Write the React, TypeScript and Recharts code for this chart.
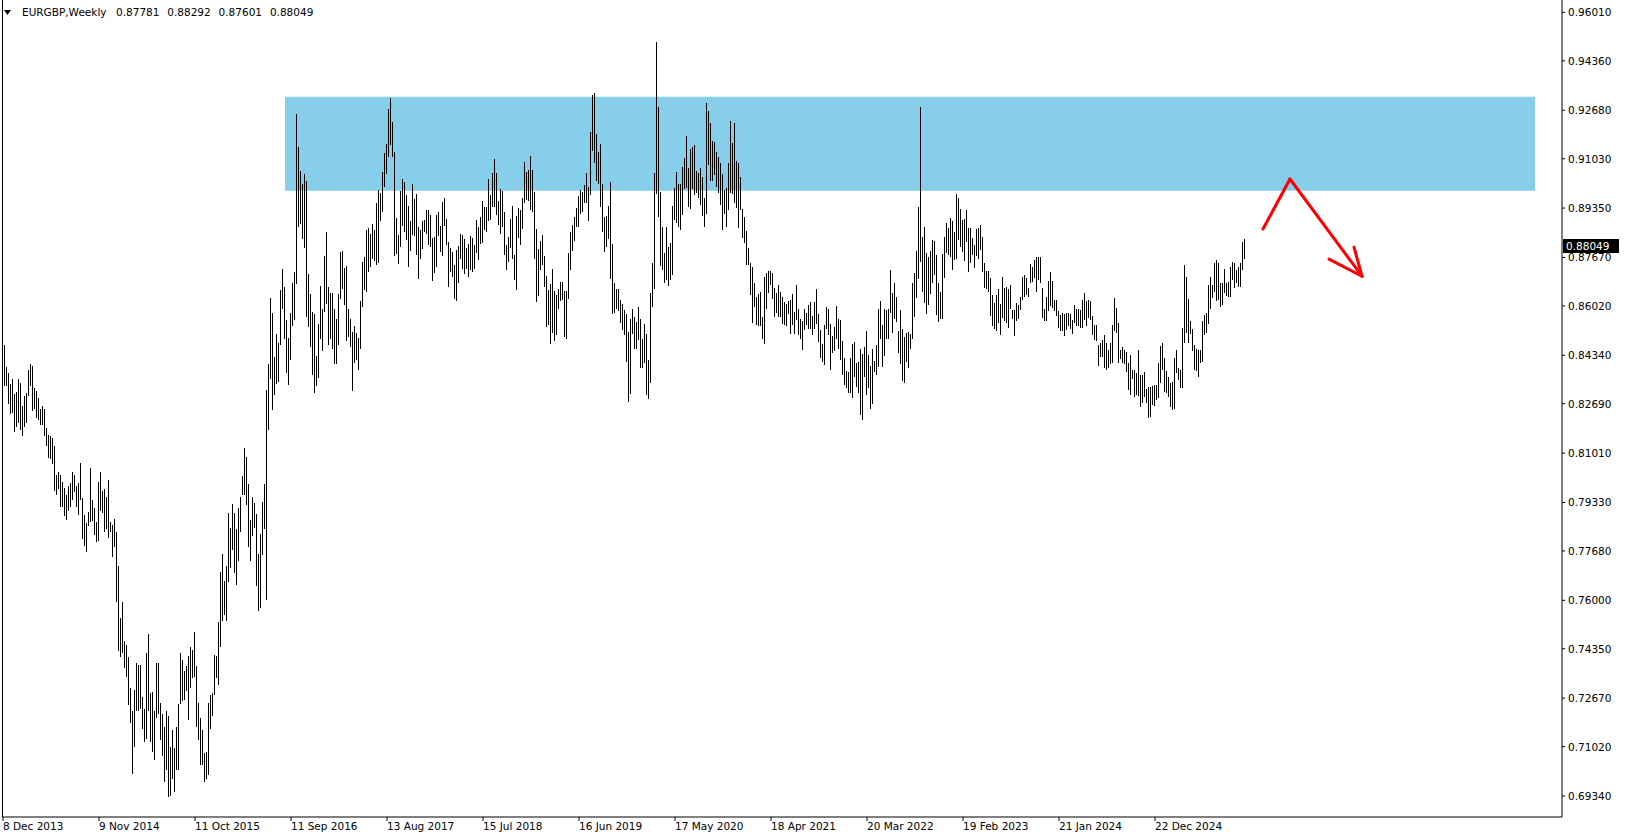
import React from 'react';
import { ComposedChart, Bar, XAxis, YAxis, ReferenceArea, ReferenceLine } from 'recharts';

// weekly EURGBP highs / lows, from 8 Dec 2013 onwards (one value per week)
const highs = [
  0.8440, 0.8468, 0.8393, 0.8372, 0.8336, 0.8352, 0.8302, 0.8308, 0.8352, 0.8339,
  0.8263, 0.8294, 0.8306, 0.8384, 0.8403, 0.8398, 0.8324, 0.8312, 0.8287, 0.8251,
  0.8261, 0.8251, 0.8187, 0.8162, 0.8158, 0.8153, 0.8126, 0.8028, 0.8036, 0.8028,
  0.8001, 0.7982, 0.7960, 0.7990, 0.7999, 0.8038, 0.8028, 0.7990, 0.7999, 0.8068,
  0.7949, 0.7892, 0.7862, 0.7902, 0.8051, 0.7940, 0.7915, 0.7865, 0.8001, 0.8038,
  0.7971, 0.7980, 0.7953, 0.8008, 0.7867, 0.7856, 0.7877, 0.7831, 0.7716, 0.7540,
  0.7593, 0.7460, 0.7447, 0.7406, 0.7303, 0.7223, 0.7294, 0.7385, 0.7381, 0.7379,
  0.7272, 0.7230, 0.7421, 0.7485, 0.7285, 0.7287, 0.7223, 0.7387, 0.7387, 0.7250,
  0.7212, 0.7169, 0.7223, 0.7205, 0.7101, 0.7160, 0.7096, 0.7169, 0.7248, 0.7421,
  0.7396, 0.7360, 0.7376, 0.7412, 0.7442, 0.7430, 0.7493, 0.7376, 0.7250, 0.7199,
  0.7157, 0.7080, 0.7083, 0.7250, 0.7278, 0.7285, 0.7415, 0.7412, 0.7525, 0.7695,
  0.7756, 0.7667, 0.7716, 0.7898, 0.7846, 0.7928, 0.7898, 0.7844, 0.7915, 0.7951,
  0.8024, 0.8117, 0.8089, 0.7996, 0.7874, 0.7951, 0.7931, 0.7894, 0.7756, 0.7826,
  0.7935, 0.7996, 0.8315, 0.8405, 0.8628, 0.8579, 0.8428, 0.8506, 0.8476, 0.8656,
  0.8729, 0.8665, 0.8555, 0.8494, 0.8579, 0.8681, 0.8717, 0.9255, 0.9144, 0.9062,
  0.9017, 0.9051, 0.9028, 0.8709, 0.8642, 0.8582, 0.8574, 0.8431, 0.8540, 0.8669,
  0.8590, 0.8771, 0.8854, 0.8667, 0.8647, 0.8647, 0.8593, 0.8556, 0.8642, 0.8786,
  0.8790, 0.8730, 0.8738, 0.8590, 0.8556, 0.8514, 0.8533, 0.8511, 0.8493, 0.8619,
  0.8752, 0.8769, 0.8860, 0.8866, 0.8846, 0.8880, 0.8862, 0.8953, 0.8996, 0.8987,
  0.9059, 0.9123, 0.9153, 0.9273, 0.9308, 0.9228, 0.9126, 0.8902, 0.8843, 0.8994,
  0.9034, 0.9024, 0.8979, 0.8942, 0.8892, 0.9017, 0.8967, 0.8983, 0.8871, 0.8862,
  0.8892, 0.8896, 0.8928, 0.8928, 0.8911, 0.8833, 0.8837, 0.8911, 0.8921, 0.8874,
  0.8955, 0.8969, 0.8898, 0.8820, 0.8798, 0.8786, 0.8741, 0.8792, 0.8806, 0.8846,
  0.8842, 0.8829, 0.8798, 0.8812, 0.8840, 0.8833, 0.8809, 0.8894, 0.8871, 0.8905,
  0.8959, 0.8940, 0.8940, 0.9034, 0.8979, 0.9053, 0.9102, 0.9053, 0.8959, 0.9000,
  0.8993, 0.8921, 0.8809, 0.8837, 0.8898, 0.8942, 0.8775, 0.8909, 0.8935, 0.8928,
  0.8969, 0.9092, 0.9058, 0.9064, 0.9112, 0.9064, 0.8989, 0.8864, 0.8795, 0.8824,
  0.8843, 0.8772, 0.8703, 0.8656, 0.8678, 0.8727, 0.8653, 0.8639, 0.8659, 0.8682,
  0.8682, 0.8653, 0.8653, 0.8783, 0.8854, 0.8877, 0.8905, 0.8934, 0.8976, 0.8996,
  0.8991, 0.9013, 0.9053, 0.9008, 0.9195, 0.9320, 0.9328, 0.9187, 0.9127, 0.9153,
  0.9017, 0.8905, 0.8908, 0.8942, 0.9024, 0.8812, 0.8681, 0.8658, 0.8658, 0.8622,
  0.8608, 0.8588, 0.8576, 0.8514, 0.8559, 0.8593, 0.8563, 0.8548, 0.8599, 0.8556,
  0.8489, 0.8539, 0.8506, 0.8418, 0.8645, 0.8747, 0.9053, 0.9499, 0.9280, 0.8991,
  0.8869, 0.8783, 0.8869, 0.8801, 0.8815, 0.8942, 0.9005, 0.9059, 0.9017, 0.9017,
  0.9074, 0.9104, 0.9180, 0.9070, 0.9135, 0.9142, 0.9150, 0.9062, 0.9053, 0.9070,
  0.9042, 0.8968, 0.9291, 0.9265, 0.9226, 0.9164, 0.9161, 0.9127, 0.9110, 0.9089,
  0.9051, 0.8996, 0.9002, 0.9089, 0.9230, 0.9155, 0.9223, 0.9096, 0.9089, 0.9040,
  0.8931, 0.8906, 0.8858, 0.8798, 0.8749, 0.8735, 0.8681, 0.8633, 0.8642, 0.8650,
  0.8563, 0.8699, 0.8715, 0.8722, 0.8721, 0.8715, 0.8662, 0.8647, 0.8673, 0.8650,
  0.8633, 0.8616, 0.8608, 0.8620, 0.8622, 0.8642, 0.8582, 0.8673, 0.8593, 0.8559,
  0.8551, 0.8590, 0.8579, 0.8605, 0.8616, 0.8567, 0.8614, 0.8658, 0.8574, 0.8520,
  0.8472, 0.8537, 0.8597, 0.8590, 0.8540, 0.8499, 0.8529, 0.8601, 0.8556, 0.8554,
  0.8483, 0.8423, 0.8381, 0.8378, 0.8423, 0.8472, 0.8480, 0.8406, 0.8412, 0.8457,
  0.8438, 0.8461, 0.8517, 0.8435, 0.8397, 0.8454, 0.8415, 0.8469, 0.8593, 0.8620,
  0.8537, 0.8590, 0.8588, 0.8590, 0.8724, 0.8645, 0.8681, 0.8631, 0.8517, 0.8588,
  0.8525, 0.8495, 0.8511, 0.8514, 0.8506, 0.8681, 0.8715, 0.8790, 0.8940, 0.9280,
  0.8835, 0.8872, 0.8783, 0.8769, 0.8790, 0.8828, 0.8824, 0.8775, 0.8681, 0.8650,
  0.8779, 0.8838, 0.8883, 0.8866, 0.8900, 0.8892, 0.8855, 0.8983, 0.8969, 0.8931,
  0.8895, 0.8897, 0.8929, 0.8866, 0.8866, 0.8832, 0.8810, 0.8863, 0.8866, 0.8878,
  0.8838, 0.8747, 0.8722, 0.8722, 0.8696, 0.8639, 0.8613, 0.8639, 0.8659, 0.8609,
  0.8702, 0.8662, 0.8665, 0.8659, 0.8673, 0.8588, 0.8588, 0.8611, 0.8605, 0.8634,
  0.8702, 0.8707, 0.8696, 0.8662, 0.8745, 0.8736, 0.8759, 0.8768, 0.8768, 0.8768,
  0.8662, 0.8591, 0.8634, 0.8688, 0.8719, 0.8688, 0.8622, 0.8622, 0.8583, 0.8571,
  0.8577, 0.8575, 0.8577, 0.8579, 0.8575, 0.8554, 0.8605, 0.8591, 0.8591, 0.8588,
  0.8622, 0.8645, 0.8620, 0.8622, 0.8620, 0.8568, 0.8537, 0.8537, 0.8469, 0.8475,
  0.8486, 0.8503, 0.8475, 0.8452, 0.8475, 0.8537, 0.8628, 0.8594, 0.8545, 0.8452,
  0.8463, 0.8452, 0.8446, 0.8407, 0.8435, 0.8384, 0.8384, 0.8375, 0.8452, 0.8367,
  0.8367, 0.8378, 0.8318, 0.8327, 0.8327, 0.8330, 0.8333, 0.8333, 0.8409, 0.8466,
  0.8477, 0.8424, 0.8382, 0.8361, 0.8339, 0.8344, 0.8424, 0.8452, 0.8390, 0.8384,
  0.8526, 0.8742, 0.8700, 0.8625, 0.8549, 0.8522, 0.8469, 0.8454, 0.8452, 0.8452,
  0.8552, 0.8571, 0.8579, 0.8673, 0.8702, 0.8673, 0.8747, 0.8759, 0.8747, 0.8679,
  0.8679, 0.8727, 0.8679, 0.8685, 0.8734, 0.8753, 0.8747, 0.8725, 0.8734, 0.8749,
  0.8821, 0.88292,
];

const lows = [
  0.8348, 0.8330, 0.8330, 0.8269, 0.8233, 0.8239, 0.8172, 0.8190, 0.8203, 0.8178,
  0.8158, 0.8190, 0.8205, 0.8294, 0.8330, 0.8245, 0.8251, 0.8221, 0.8215, 0.8196,
  0.8196, 0.8160, 0.8126, 0.8083, 0.8081, 0.8065, 0.7971, 0.7960, 0.7978, 0.7917,
  0.7919, 0.7886, 0.7874, 0.7904, 0.7919, 0.7940, 0.7967, 0.7917, 0.7890, 0.7940,
  0.7810, 0.7785, 0.7765, 0.7853, 0.7867, 0.7871, 0.7821, 0.7798, 0.7801, 0.7904,
  0.7898, 0.7831, 0.7841, 0.7813, 0.7831, 0.7746, 0.7781, 0.7594, 0.7428, 0.7406,
  0.7421, 0.7369, 0.7339, 0.7242, 0.7181, 0.7010, 0.7101, 0.7223, 0.7223, 0.7230,
  0.7162, 0.7116, 0.7128, 0.7223, 0.7116, 0.7083, 0.7055, 0.7199, 0.7212, 0.7126,
  0.7071, 0.6982, 0.7023, 0.6931, 0.6934, 0.6992, 0.6949, 0.7023, 0.7023, 0.7248,
  0.7258, 0.7260, 0.7290, 0.7193, 0.7303, 0.7335, 0.7339, 0.7169, 0.7126, 0.7038,
  0.7038, 0.6980, 0.6992, 0.7005, 0.7162, 0.7205, 0.7278, 0.7335, 0.7311, 0.7442,
  0.7528, 0.7551, 0.7528, 0.7661, 0.7710, 0.7771, 0.7692, 0.7651, 0.7735, 0.7831,
  0.7960, 0.7960, 0.7926, 0.7783, 0.7735, 0.7819, 0.7846, 0.7649, 0.7564, 0.7574,
  0.7753, 0.7844, 0.7601, 0.8178, 0.8354, 0.8248, 0.8299, 0.8336, 0.8342, 0.8470,
  0.8592, 0.8488, 0.8372, 0.8332, 0.8417, 0.8534, 0.8555, 0.8676, 0.8870, 0.8880,
  0.8830, 0.8800, 0.8565, 0.8531, 0.8461, 0.8366, 0.8306, 0.8329, 0.8355, 0.8491,
  0.8449, 0.8582, 0.8610, 0.8468, 0.8491, 0.8457, 0.8403, 0.8403, 0.8468, 0.8624,
  0.8661, 0.8605, 0.8483, 0.8495, 0.8463, 0.8313, 0.8406, 0.8417, 0.8383, 0.8457,
  0.8599, 0.8656, 0.8650, 0.8718, 0.8735, 0.8760, 0.8756, 0.8741, 0.8747, 0.8892,
  0.8922, 0.9008, 0.9051, 0.9110, 0.9150, 0.9110, 0.8772, 0.8778, 0.8744, 0.8801,
  0.8874, 0.8854, 0.8826, 0.8733, 0.8790, 0.8843, 0.8840, 0.8775, 0.8692, 0.8760,
  0.8794, 0.8854, 0.8846, 0.8809, 0.8803, 0.8688, 0.8715, 0.8733, 0.8840, 0.8786,
  0.8772, 0.8874, 0.8809, 0.8667, 0.8718, 0.8701, 0.8627, 0.8619, 0.8681, 0.8760,
  0.8726, 0.8710, 0.8726, 0.8699, 0.8724, 0.8718, 0.8726, 0.8783, 0.8758, 0.8812,
  0.8817, 0.8862, 0.8854, 0.8892, 0.8894, 0.8940, 0.8940, 0.8911, 0.8877, 0.8846,
  0.8871, 0.8775, 0.8724, 0.8752, 0.8798, 0.8760, 0.8690, 0.8656, 0.8832, 0.8809,
  0.8863, 0.8953, 0.8962, 0.8960, 0.8928, 0.8922, 0.8760, 0.8616, 0.8635, 0.8724,
  0.8741, 0.8667, 0.8531, 0.8537, 0.8472, 0.8510, 0.8483, 0.8503, 0.8590, 0.8619,
  0.8622, 0.8497, 0.8489, 0.8624, 0.8724, 0.8790, 0.8824, 0.8871, 0.8871, 0.8915,
  0.8921, 0.8951, 0.8953, 0.8892, 0.8979, 0.9130, 0.9089, 0.9028, 0.9017, 0.8940,
  0.8854, 0.8786, 0.8803, 0.8829, 0.8695, 0.8574, 0.8579, 0.8593, 0.8585, 0.8545,
  0.8520, 0.8503, 0.8412, 0.8276, 0.8302, 0.8506, 0.8454, 0.8457, 0.8486, 0.8389,
  0.8389, 0.8409, 0.8298, 0.8284, 0.8340, 0.8597, 0.8658, 0.8983, 0.8906, 0.8738,
  0.8724, 0.8681, 0.8690, 0.8670, 0.8690, 0.8707, 0.8894, 0.8883, 0.8871, 0.8862,
  0.8911, 0.8999, 0.9002, 0.8940, 0.8932, 0.8999, 0.8979, 0.8987, 0.8968, 0.8945,
  0.8908, 0.8869, 0.8915, 0.9081, 0.9028, 0.9028, 0.9047, 0.9008, 0.8985, 0.8945,
  0.8860, 0.8915, 0.8869, 0.8928, 0.8987, 0.8983, 0.8951, 0.8934, 0.8866, 0.8928,
  0.8832, 0.8815, 0.8741, 0.8741, 0.8639, 0.8545, 0.8597, 0.8537, 0.8533, 0.8533,
  0.8491, 0.8474, 0.8590, 0.8645, 0.8673, 0.8624, 0.8565, 0.8577, 0.8565, 0.8563,
  0.8542, 0.8537, 0.8533, 0.8574, 0.8506, 0.8537, 0.8506, 0.8554, 0.8503, 0.8488,
  0.8452, 0.8520, 0.8537, 0.8522, 0.8522, 0.8503, 0.8522, 0.8542, 0.8480, 0.8423,
  0.8412, 0.8401, 0.8522, 0.8503, 0.8384, 0.8443, 0.8449, 0.8490, 0.8454, 0.8418,
  0.8366, 0.8332, 0.8324, 0.8306, 0.8306, 0.8287, 0.8361, 0.8327, 0.8306, 0.8230,
  0.8213, 0.8361, 0.8298, 0.8324, 0.8250, 0.8268, 0.8378, 0.8367, 0.8395, 0.8488,
  0.8393, 0.8431, 0.8488, 0.8488, 0.8579, 0.8511, 0.8559, 0.8548, 0.8442, 0.8404,
  0.8347, 0.8340, 0.8412, 0.8389, 0.8457, 0.8491, 0.8565, 0.8628, 0.8692, 0.8752,
  0.8650, 0.8611, 0.8576, 0.8605, 0.8642, 0.8679, 0.8707, 0.8571, 0.8548, 0.8559,
  0.8559, 0.8696, 0.8783, 0.8775, 0.8770, 0.8725, 0.8759, 0.8761, 0.8827, 0.8802,
  0.8784, 0.8756, 0.8821, 0.8719, 0.8747, 0.8776, 0.8730, 0.8772, 0.8761, 0.8793,
  0.8719, 0.8662, 0.8659, 0.8651, 0.8568, 0.8534, 0.8522, 0.8518, 0.8543, 0.8503,
  0.8562, 0.8549, 0.8545, 0.8526, 0.8591, 0.8557, 0.8498, 0.8549, 0.8557, 0.8588,
  0.8622, 0.8634, 0.8639, 0.8631, 0.8681, 0.8685, 0.8696, 0.8651, 0.8690, 0.8679,
  0.8560, 0.8549, 0.8552, 0.8586, 0.8600, 0.8594, 0.8583, 0.8566, 0.8526, 0.8515,
  0.8518, 0.8500, 0.8520, 0.8532, 0.8522, 0.8507, 0.8543, 0.8532, 0.8532, 0.8526,
  0.8526, 0.8554, 0.8532, 0.8560, 0.8554, 0.8503, 0.8486, 0.8481, 0.8398, 0.8429,
  0.8429, 0.8390, 0.8384, 0.8390, 0.8404, 0.8407, 0.8515, 0.8509, 0.8407, 0.8420,
  0.8407, 0.8404, 0.8378, 0.8316, 0.8299, 0.8352, 0.8293, 0.8299, 0.8295, 0.8259,
  0.8271, 0.8293, 0.8271, 0.8219, 0.8223, 0.8265, 0.8261, 0.8282, 0.8288, 0.8341,
  0.8384, 0.8310, 0.8307, 0.8293, 0.8259, 0.8246, 0.8250, 0.8373, 0.8350, 0.8322,
  0.8322, 0.8475, 0.8511, 0.8475, 0.8507, 0.8450, 0.8384, 0.8382, 0.8359, 0.8407,
  0.8412, 0.8503, 0.8509, 0.8541, 0.8591, 0.8628, 0.8651, 0.8617, 0.8622, 0.8597,
  0.8605, 0.8645, 0.8636, 0.8634, 0.8634, 0.8690, 0.8662, 0.8679, 0.8665, 0.8668,
  0.8725, 0.87601,
];

// last bar, shown in the header
const lastOpen = 0.87781;
const lastClose = 0.88049;

const priceTicks = [
  0.6934, 0.7102, 0.7267, 0.7435, 0.76, 0.7768, 0.7933, 0.8101, 0.8269,
  0.8434, 0.8602, 0.8767, 0.8935, 0.9103, 0.9268, 0.9436, 0.9601,
];

const dateTickBars = [0, 48, 96, 144, 192, 240, 288, 336, 384, 432, 480, 528, 576];
const dateTickLabels = [
  '8 Dec 2013', '9 Nov 2014', '11 Oct 2015', '11 Sep 2016', '13 Aug 2017', '15 Jul 2018',
  '16 Jun 2019', '17 May 2020', '18 Apr 2021', '20 Mar 2022', '19 Feb 2023', '21 Jan 2024',
  '22 Dec 2024',
];

// supply zone (bar index range, price range)
const zoneBars = [141, 766];
const zonePrices = [0.8994, 0.9314];

// hand-drawn arrow, in bar index / price
const arrowPath = [
  { bar: 630, price: 0.8864 },
  { bar: 643.5, price: 0.9034 },
  { bar: 679.5, price: 0.8703 },
];
const arrowHead = [
  { bar: 675.5, price: 0.8802 },
  { bar: 663, price: 0.8761 },
];

const data = highs.map((h, i) => ({ i, range: [lows[i], h] }));

const FONT = '"DejaVu Sans", Tahoma, sans-serif';

const W = 1625;
const H = 838;

function HighLowBar(props: any) {
  const { x, y, width, height } = props;
  const cx = Math.floor(x + width / 2) + 0.5;
  const top = Math.round(y);
  const bottom = Math.max(Math.round(y + height), top + 1);
  return <line x1={cx} x2={cx} y1={top} y2={bottom} stroke="#000" strokeWidth={1} shapeRendering="crispEdges" />;
}

function PriceTick(props: any) {
  const { x, y, payload } = props;
  return (
    <text x={x + 1} y={y} dy={4} fontSize={10.5} fontFamily={FONT} fill="#000" textAnchor="start">
      {Number(payload.value).toFixed(5)}
    </text>
  );
}

function DateTick(props: any) {
  const { x, y, payload } = props;
  const k = dateTickBars.indexOf(payload.value);
  return (
    <text x={x} y={y} dy={7} fontSize={10.5} fontFamily={FONT} fill="#000" textAnchor="start">
      {dateTickLabels[k]}
    </text>
  );
}

function PriceTag(props: any) {
  const vb = props.viewBox || {};
  const x = vb.x + vb.width + 1;
  const y = Math.round(vb.y);
  return (
    <g>
      <rect x={x} y={y - 7} width={56} height={14} fill="#000" />
      <text x={x + 3} y={y + 4} fontSize={10.5} fontFamily={FONT} fill="#fff">
        {lastClose.toFixed(5)}
      </text>
    </g>
  );
}

export default function App() {
  const header = [lastOpen, highs[highs.length - 1], lows[lows.length - 1], lastClose];
  return (
    <div style={{ position: 'fixed', left: 0, top: 0, width: W, height: H, background: '#fff', overflow: 'hidden' }}>
      <ComposedChart width={W} height={H} data={data} margin={{ top: 0, right: 0, bottom: 0, left: 2 }}>
        <XAxis
          type="number"
          dataKey="i"
          domain={[-0.5, 779.5]}
          allowDataOverflow
          ticks={dateTickBars}
          interval={0}
          height={21}
          tickSize={4}
          tickMargin={2}
          axisLine={{ stroke: '#000' }}
          tickLine={{ stroke: '#000' }}
          tick={<DateTick />}
        />
        <YAxis
          type="number"
          orientation="right"
          domain={[0.68624, 0.96432]}
          allowDataOverflow
          ticks={priceTicks}
          interval={0}
          width={63}
          tickSize={3}
          tickMargin={2}
          axisLine={{ stroke: '#000' }}
          tickLine={{ stroke: '#000' }}
          tick={<PriceTick />}
        />
        <ReferenceArea
          x1={zoneBars[0]}
          x2={zoneBars[1]}
          y1={zonePrices[0]}
          y2={zonePrices[1]}
          fill="#87ceeb"
          fillOpacity={1}
          stroke="none"
        />
        <Bar dataKey="range" barSize={1} isAnimationActive={false} shape={<HighLowBar />} />
        {arrowPath.slice(1).map((p, k) => (
          <ReferenceLine
            key={`arrow-${k}`}
            segment={[
              { x: arrowPath[k].bar, y: arrowPath[k].price },
              { x: p.bar, y: p.price },
            ]}
            stroke="#ff0000"
            strokeWidth={3}
            strokeLinecap="round"
          />
        ))}
        {arrowHead.map((p, k) => (
          <ReferenceLine
            key={`head-${k}`}
            segment={[
              { x: arrowPath[2].bar, y: arrowPath[2].price },
              { x: p.bar, y: p.price },
            ]}
            stroke="#ff0000"
            strokeWidth={3}
            strokeLinecap="round"
          />
        ))}
        <ReferenceLine y={lastClose} stroke="none" label={<PriceTag />} />
      </ComposedChart>
      {/* chart frame, left edge */}
      <div style={{ position: 'absolute', left: 2, top: 0, width: 1, height: 817, background: '#000', pointerEvents: 'none' }} />
      <div style={{ position: 'absolute', left: 4, top: 6, fontFamily: FONT, fontSize: 10.5, color: '#000', whiteSpace: 'nowrap' }}>
        <svg width={8} height={6} style={{ position: 'absolute', left: 0, top: 4 }}>
          <polygon points="0,0 7,0 3.5,5" fill="#000" />
        </svg>
        <span style={{ position: 'absolute', left: 18, top: 0 }}>EURGBP,Weekly</span>
        {header.map((v, k) => (
          <span key={k} style={{ position: 'absolute', left: 112 + k * 51.3, top: 0 }}>{v.toFixed(5)}</span>
        ))}
      </div>
    </div>
  );
}
